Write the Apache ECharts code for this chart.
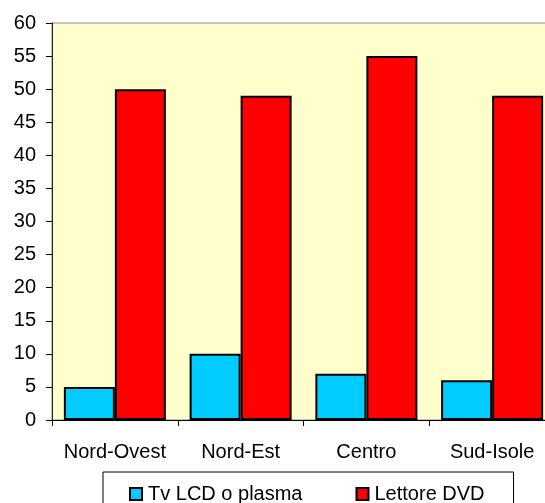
<!DOCTYPE html>
<html>
<head>
<meta charset="utf-8">
<script src="https://cdn.jsdelivr.net/npm/echarts@6/dist/echarts.min.js"></script>
<style>
  html, body { margin: 0; padding: 0; background: #ffffff; overflow: hidden; }
  #chart { width: 560px; height: 503px; }
</style>
</head>
<body>
<div id="chart"></div>
<script>
// Regions and shares of households owning each device (%)
const categories = ['Nord-Ovest', 'Nord-Est', 'Centro', 'Sud-Isole'];
const tvLcdPlasma = [5, 10, 7, 6];
const lettoreDvd = [50, 49, 55, 49];
const seriesNames = ['Tv LCD o plasma', 'Lettore DVD'];

const FONT = '"Liberation Sans", Arial, sans-serif';

const chart = echarts.init(document.getElementById('chart'), null, { renderer: 'canvas' });

chart.setOption({
  animation: false,
  backgroundColor: '#ffffff',
  textStyle: { fontFamily: FONT, color: '#000' },
  grid: {
    left: 52,
    top: 23,
    right: 5,
    bottom: 83,
    show: true,
    backgroundColor: '#FFFFCC',
    borderColor: '#8c8c8c',
    borderWidth: 1
  },
  legend: {
    data: seriesNames,
    left: 103,
    top: 472,
    orient: 'horizontal',
    icon: 'rect',
    itemWidth: 12,
    itemHeight: 12,
    itemGap: 53,
    padding: [12, 29, 14, 26],
    borderColor: '#000',
    borderWidth: 1,
    backgroundColor: '#ffffff',
    textStyle: { fontFamily: FONT, fontSize: 20, color: '#000', padding: [0, 0, 0, 1] },
    itemStyle: { borderColor: '#000', borderWidth: 2 }
  },
  xAxis: {
    type: 'category',
    data: categories,
    axisLine: { lineStyle: { color: '#000', width: 1 } },
    axisTick: { show: true, length: 6, interval: 0, lineStyle: { color: '#000' } },
    axisLabel: { fontFamily: FONT, fontSize: 20, color: '#000', margin: 22, interval: 0 },
    splitLine: { show: false }
  },
  yAxis: {
    type: 'value',
    min: 0,
    max: 60,
    interval: 5,
    axisLine: { show: true, lineStyle: { color: '#222', width: 1 } },
    axisTick: { show: true, length: 6, lineStyle: { color: '#000' } },
    axisLabel: { fontFamily: FONT, fontSize: 20, color: '#000', margin: 16 },
    splitLine: { show: false }
  },
  series: [
    {
      name: seriesNames[0],
      type: 'bar',
      data: tvLcdPlasma,
      barWidth: 51,
      barGap: '0%',
      itemStyle: { color: '#00CCFF', borderColor: '#000', borderWidth: 2 }
    },
    {
      name: seriesNames[1],
      type: 'bar',
      data: lettoreDvd,
      barWidth: 51,
      barGap: '0%',
      itemStyle: { color: '#FF0000', borderColor: '#000', borderWidth: 2 }
    }
  ]
});
</script>
</body>
</html>
